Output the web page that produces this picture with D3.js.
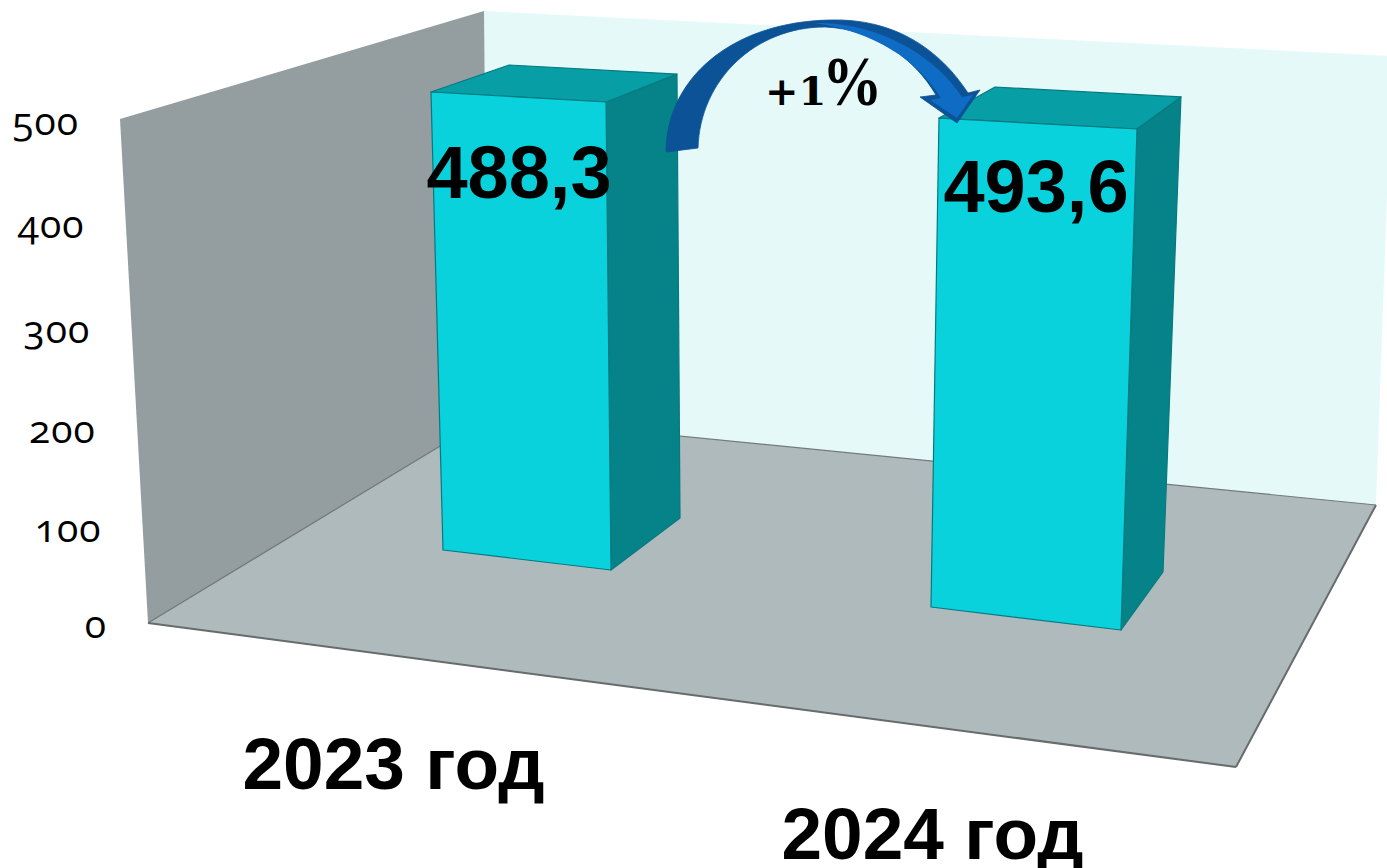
<!DOCTYPE html>
<html><head><meta charset="utf-8">
<script src="https://cdn.jsdelivr.net/npm/d3@7"></script>
<style>html,body{margin:0;padding:0;background:#fff;overflow:hidden}svg{display:block}</style>
</head><body><svg id="c" width="1387" height="868"></svg>
<script>
const categories = ["2023 год", "2024 год"];
const values = [488.3, 493.6];
const valueLabels = ["488,3", "493,6"];
const ticks = [0, 100, 200, 300, 400, 500];

const svg = d3.select("#c");
const vmax = 500;
// Projected chart box: the axis edge runs from value 0 to value 500
const axisEdge = d3.scaleLinear().domain([0, vmax]).range([[148, 623], [120, 119]]);
const tickBaseline = d3.scaleLinear().domain(ticks).range([638, 542, 443, 343, 238, 135]);
const floor = [[148, 623], [1236, 767], [1376, 505], [488, 417]];
const leftWall = [[120, 119], [484, 11], [488, 417], [148, 623]];
const backWall = [[484, 11], [1392, 56], [1376, 505], [488, 417]];

// Column geometry in projection: FL, FR, BR, BL corners at value 0 and at value 500
const columns = [
  { zero: [[443, 550], [611, 570], [680, 518], [512, 498]], full: [[430.7, 81], [605.9, 90.8], [676.9, 63.4], [509, 54.6]], label: [519, 198], cat: [393.5, 789] },
  { zero: [[931, 607], [1121, 630], [1163, 572], [975, 552]], full: [[939.1, 111.7], [1137.2, 122.5], [1181.2, 90.8], [995.3, 81]], label: [1036, 212], cat: [932.5, 859] }
];
const edgeScale = (c, k) => d3.scaleLinear().domain([0, vmax]).range([c.zero[k], c.full[k]]);
const pts = a => a.map(p => p.join(",")).join(" ");
const edge = (a, b, col, w) => svg.append("line").attr("x1", a[0]).attr("y1", a[1]).attr("x2", b[0]).attr("y2", b[1]).attr("stroke", col).attr("stroke-width", w);

svg.append("polygon").attr("points", pts(backWall)).attr("fill", "#e5f9f9");
svg.append("polygon").attr("points", pts(leftWall)).attr("fill", "#949d9f");
svg.append("polygon").attr("points", pts(floor)).attr("fill", "#aebabc");
edge(axisEdge(vmax), axisEdge(0), "#6a6f70", 2);
edge(floor[0], floor[3], "#6f7778", 1.2);
edge(floor[0], floor[1], "#666b6c", 2);
edge(floor[1], floor[2], "#666b6c", 2);
edge(floor[3], floor[2], "#747b7c", 1.2);

svg.selectAll("text.tick").data(ticks).join("text").attr("class", "tick")
  .attr("x", d => axisEdge(d)[0] - 41)
  .attr("y", d => tickBaseline(d))
  .attr("text-anchor", "end")
  .attr("font-family", "'Open Sans'")
  .attr("font-size", 39)
  .attr("letter-spacing", 1)
  .style("font-variant-numeric", "oldstyle-nums")
  .attr("fill", "#000")
  .text(d => d);

values.forEach((v, i) => {
  const c = columns[i];
  const top = [0, 1, 2, 3].map(k => edgeScale(c, k)(v));
  const base = [0, 1, 2, 3].map(k => edgeScale(c, k)(0));
  const g = svg.append("g").attr("stroke", "#067a80").attr("stroke-width", 1.2).attr("stroke-linejoin", "round");
  g.append("polygon").attr("points", pts([top[1], top[2], base[2], base[1]])).attr("fill", "#068388");
  g.append("polygon").attr("points", pts([top[0], top[1], top[2], top[3]])).attr("fill", "#089ea6");
  g.append("polygon").attr("points", pts([top[0], top[1], base[1], base[0]])).attr("fill", "#09d2dc");
});

// Curved change arrow (annotation)
const arrowShape = "M666,152 C666,80 730,22 830,20 C895,18 940,50 968,93 L980,90 L957,123 L920,97 L936,95 C915,59 875,29 825,27 C755,27 700,80 698,148 Z";
const arrowLight = "M815,23 C885,22 940,62 962,97 L973,95 L957,118 L930,100 L941,98 C917,60 875,32 815,23 Z";
svg.append("path").attr("d", arrowShape).attr("fill", "#0b5296").attr("stroke", "#0b5296").attr("stroke-width", 0.8).attr("stroke-linejoin", "round");
svg.append("path").attr("d", arrowLight).attr("fill", "#0f6cc4");

const change = svg.append("text").attr("x", 765).attr("y", 105).attr("font-weight", "bold");
change.append("tspan").attr("font-family", "'DejaVu Serif'").attr("font-size", 40).text("+1");
change.append("tspan").attr("dx", -4).attr("font-family", "'Liberation Serif'").attr("font-size", 70)
  .attr("textLength", 60).attr("lengthAdjust", "spacingAndGlyphs").text("%");

const bold = "'Liberation Sans', Arial, sans-serif";
svg.selectAll("text.val").data(values).join("text").attr("class", "val")
  .attr("x", (d, i) => columns[i].label[0]).attr("y", (d, i) => columns[i].label[1])
  .attr("text-anchor", "middle").attr("font-family", bold).attr("font-weight", "bold").attr("font-size", 74)
  .text((d, i) => valueLabels[i]);
svg.selectAll("text.cat").data(categories).join("text").attr("class", "cat")
  .attr("x", (d, i) => columns[i].cat[0]).attr("y", (d, i) => columns[i].cat[1])
  .attr("text-anchor", "middle").attr("font-family", bold).attr("font-weight", "bold").attr("font-size", 73)
  .text(d => d);
</script></body></html>
